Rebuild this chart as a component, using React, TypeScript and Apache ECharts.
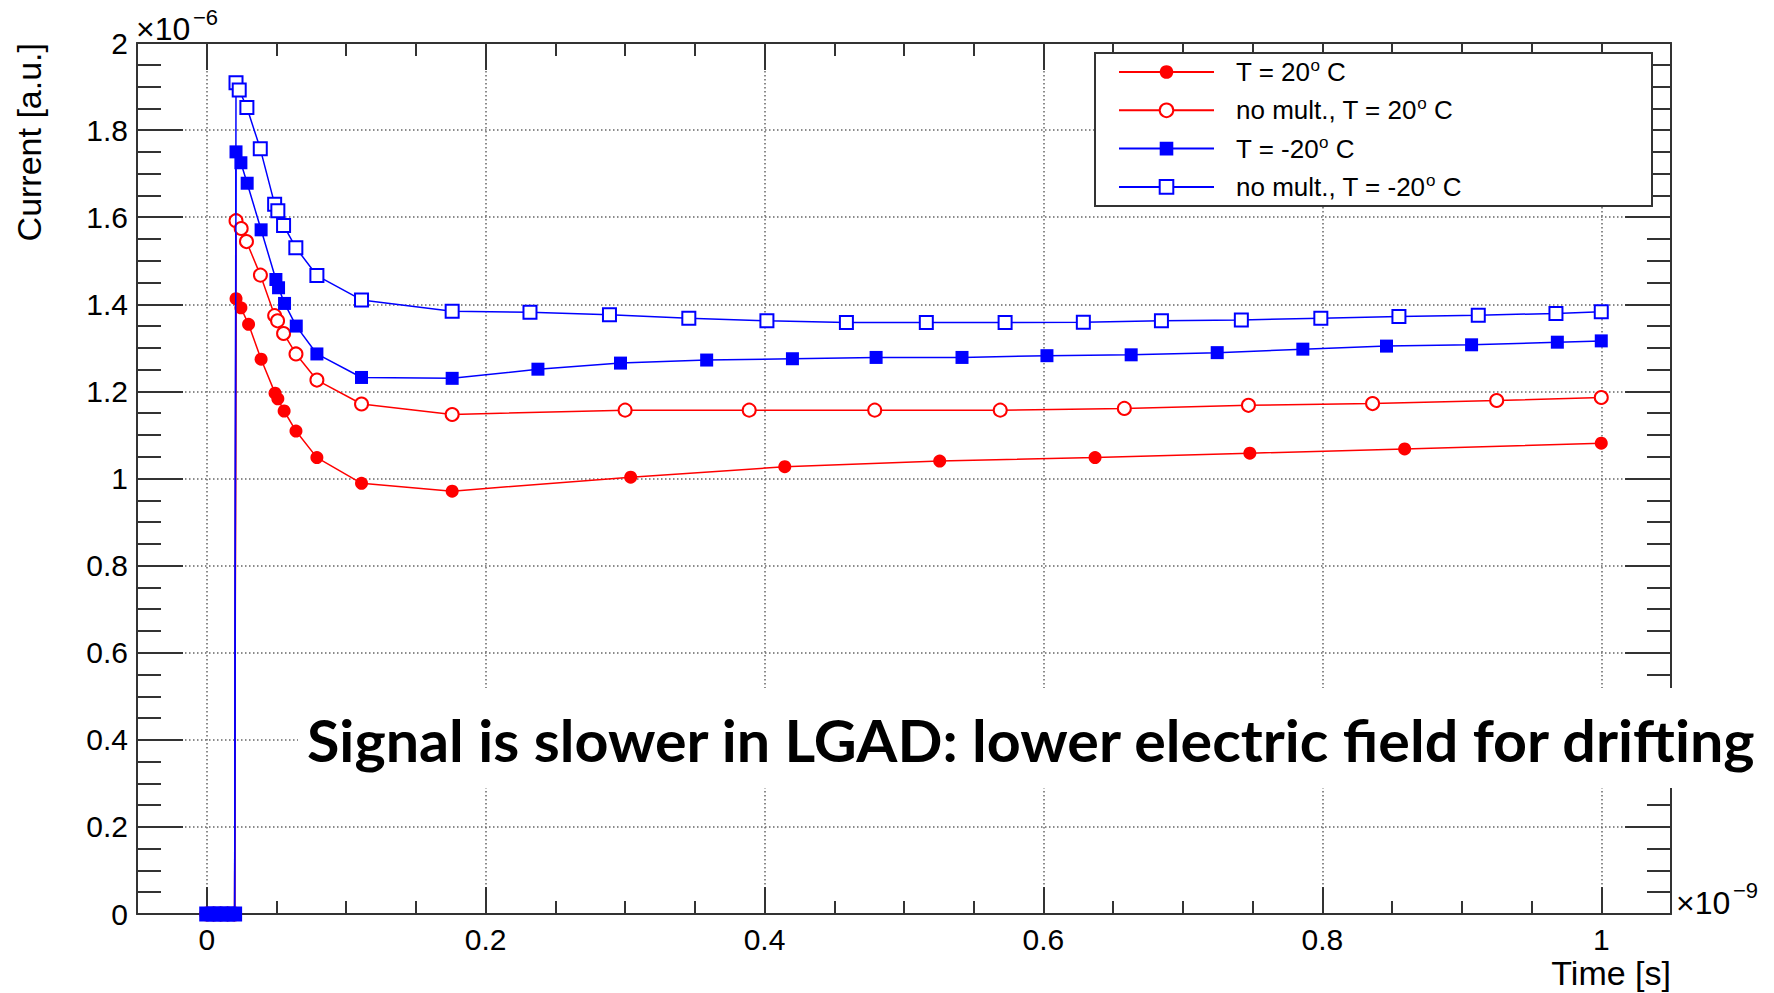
import React, { useEffect, useRef } from 'react';
import * as echarts from 'echarts';

// ---- data (time in 1e-9 s, current in 1e-6 a.u.) ----
const seriesNames = ['T = 20° C', 'no mult., T = 20° C', 'T = -20° C', 'no mult., T = -20° C'];

const time20 = [0, 0.005, 0.01, 0.015, 0.02, 0.021, 0.0245, 0.030, 0.039, 0.049, 0.051, 0.0555, 0.064, 0.079, 0.111, 0.176, 0.304, 0.4145, 0.5256, 0.637, 0.748, 0.859, 1.0];
const current20 = [0, 0, 0, 0, 0, 1.413, 1.392, 1.354, 1.274, 1.196, 1.183, 1.155, 1.109, 1.048, 0.989, 0.971, 1.003, 1.027, 1.040, 1.048, 1.058, 1.068, 1.081];

const timeNoMult20 = [0, 0.005, 0.01, 0.015, 0.02, 0.021, 0.0247, 0.0285, 0.0385, 0.0487, 0.0508, 0.0551, 0.064, 0.079, 0.111, 0.176, 0.300, 0.389, 0.479, 0.569, 0.658, 0.747, 0.836, 0.925, 1.0];
const currentNoMult20 = [0, 0, 0, 0, 0, 1.592, 1.574, 1.544, 1.467, 1.374, 1.362, 1.333, 1.286, 1.226, 1.171, 1.147, 1.157, 1.157, 1.157, 1.157, 1.161, 1.168, 1.172, 1.179, 1.186];

const timeM20 = [0, 0.005, 0.01, 0.015, 0.02, 0.021, 0.0245, 0.029, 0.039, 0.0496, 0.0515, 0.0558, 0.0642, 0.079, 0.111, 0.176, 0.2375, 0.2967, 0.3585, 0.420, 0.480, 0.5416, 0.6025, 0.6629, 0.7246, 0.786, 0.846, 0.907, 0.9685, 1.0];
const currentM20 = [0, 0, 0, 0, 0, 1.750, 1.725, 1.678, 1.571, 1.457, 1.438, 1.402, 1.350, 1.286, 1.232, 1.230, 1.251, 1.265, 1.272, 1.275, 1.278, 1.278, 1.282, 1.284, 1.289, 1.297, 1.304, 1.307, 1.313, 1.316];

const timeNoMultM20 = [0, 0.005, 0.01, 0.015, 0.02, 0.021, 0.0233, 0.0288, 0.0384, 0.0487, 0.051, 0.0551, 0.0639, 0.079, 0.111, 0.176, 0.2318, 0.2888, 0.3457, 0.4017, 0.4587, 0.516, 0.5725, 0.6286, 0.6846, 0.7419, 0.7989, 0.8549, 0.9118, 0.9675, 1.0];
const currentNoMultM20 = [0, 0, 0, 0, 0, 1.909, 1.892, 1.852, 1.757, 1.630, 1.615, 1.581, 1.530, 1.466, 1.410, 1.384, 1.382, 1.376, 1.368, 1.362, 1.358, 1.358, 1.358, 1.359, 1.362, 1.364, 1.368, 1.372, 1.375, 1.379, 1.383];

const xTitle = 'Time [s]';
const yTitle = 'Current [a.u.]';
const annotation = 'Signal is slower in LGAD: lower electric field for drifting';

const RED = '#ff0000';
const BLUE = '#0000ff';
const AXIS = '#333333';
const FONT = "'Liberation Sans', Arial, sans-serif";

export default function App() {
  const ref = useRef<HTMLDivElement>(null);

  useEffect(() => {
    const chart = echarts.init(ref.current as HTMLDivElement, null, { renderer: 'svg' });
    const pair = (xs: number[], ys: number[]) => xs.map((x, i) => [x, ys[i]]);

    // fit annotation width
    let annScale = 1;
    const cv = document.createElement('canvas').getContext('2d');
    if (cv) {
      cv.font = 'bold 57px Lato';
      const w = cv.measureText(annotation).width;
      if (w > 0) annScale = 1452 / w;
    }

    const axisLineStyle = { color: AXIS, width: 2 };
    const gridLine = { show: true, lineStyle: { type: [1.5, 2.5] as any, color: '#666', width: 1.5 } };

    const xCommon = {
      type: 'value' as const,
      min: -0.05,
      max: 1.05,
      splitNumber: 5,
      axisLine: { show: true, onZero: false, lineStyle: axisLineStyle },
      axisTick: { show: true, inside: true, length: 27, lineStyle: axisLineStyle },
      minorTick: { show: true, splitNumber: 4, length: 13, lineStyle: axisLineStyle },
    };
    const yCommon = {
      type: 'value' as const,
      min: 0,
      max: 2,
      interval: 0.2,
      axisLine: { show: true, onZero: false, lineStyle: axisLineStyle },
      axisTick: { show: true, inside: true, length: 46, lineStyle: axisLineStyle },
      minorTick: { show: true, splitNumber: 4, length: 24, lineStyle: axisLineStyle },
    };

    const lineSeries = (name: string, data: number[][], color: string, symbol: string, size: number, z: number) => ({
      type: 'line',
      name,
      data,
      z,
      symbol,
      symbolSize: size,
      showSymbol: true,
      lineStyle: { color, width: 1.5 },
      itemStyle: symbol.startsWith('empty')
        ? { color, borderColor: color, borderWidth: 1.5 }
        : { color, borderWidth: 0 },
      emphasis: { disabled: true },
    });

    chart.setOption({
      animation: false,
      backgroundColor: '#ffffff',
      grid: { left: 137, right: 103, top: 43, bottom: 79, containLabel: false },
      xAxis: [
        {
          ...xCommon,
          position: 'bottom',
          axisLabel: { show: true, fontSize: 30, color: '#000', fontFamily: FONT, margin: 10, showMinLabel: false, showMaxLabel: false },
          splitLine: gridLine,
        },
        {
          ...xCommon,
          position: 'top',
          axisLabel: { show: false },
          splitLine: { show: false },
        },
      ],
      yAxis: [
        {
          ...yCommon,
          position: 'left',
          axisLabel: { show: true, fontSize: 30, color: '#000', fontFamily: FONT, margin: 9 },
          splitLine: gridLine,
        },
        {
          ...yCommon,
          position: 'right',
          axisLabel: { show: false },
          splitLine: { show: false },
        },
      ],
      legend: {
        show: true,
        orient: 'vertical',
        left: 1118,
        top: 57,
        padding: 0,
        itemWidth: 95,
        itemHeight: 17,
        itemGap: 8.3,
        selectedMode: false,
        data: seriesNames,
        formatter: (name: string) => name.replace('°', '{sup|o}'),
        textStyle: {
          fontSize: 26,
          color: '#000',
          fontFamily: FONT,
          lineHeight: 30,
          padding: [0, 0, 0, 17],
          rich: {
            sup: { fontSize: 17, lineHeight: 16, verticalAlign: 'top', color: '#000', fontFamily: FONT },
          },
        },
      },
      graphic: [
        {
          type: 'rect',
          z: 3,
          shape: { x: 1095, y: 53, width: 557, height: 153 },
          style: { fill: '#ffffff', stroke: AXIS, lineWidth: 2 },
        },
        {
          type: 'rect',
          z: 10,
          shape: { x: 298, y: 688, width: 1476, height: 100 },
          style: { fill: '#ffffff', stroke: 'none' },
        },
        {
          type: 'text',
          z: 11,
          x: 307,
          y: 740,
          scaleX: annScale,
          style: { text: annotation, fontSize: 57, fontWeight: 'bold', fontFamily: 'Lato', fill: '#000', textAlign: 'left', verticalAlign: 'middle' },
        },
        {
          type: 'text',
          z: 11,
          x: 136,
          y: 29,
          style: { text: '×10', fontSize: 32, fontFamily: FONT, fill: '#000', textAlign: 'left', verticalAlign: 'middle' },
        },
        {
          type: 'text',
          z: 11,
          x: 193,
          y: 17,
          style: { text: '−6', fontSize: 22, fontFamily: FONT, fill: '#000', textAlign: 'left', verticalAlign: 'middle' },
        },
        {
          type: 'text',
          z: 11,
          x: 1676,
          y: 903,
          style: { text: '×10', fontSize: 32, fontFamily: FONT, fill: '#000', textAlign: 'left', verticalAlign: 'middle' },
        },
        {
          type: 'text',
          z: 11,
          x: 1733,
          y: 890,
          style: { text: '−9', fontSize: 22, fontFamily: FONT, fill: '#000', textAlign: 'left', verticalAlign: 'middle' },
        },
        {
          type: 'text',
          z: 11,
          x: 1671,
          y: 973,
          style: { text: xTitle, fontSize: 34, fontFamily: FONT, fill: '#000', textAlign: 'right', verticalAlign: 'middle' },
        },
        {
          type: 'text',
          z: 11,
          x: 29,
          y: 43,
          rotation: Math.PI / 2,
          style: { text: yTitle, fontSize: 34, fontFamily: FONT, fill: '#000', textAlign: 'right', verticalAlign: 'middle' },
        },
      ],
      series: [
        lineSeries(seriesNames[0], pair(time20, current20), RED, 'circle', 13, 2),
        lineSeries(seriesNames[1], pair(timeNoMult20, currentNoMult20), RED, 'emptyCircle', 13, 2),
        lineSeries(seriesNames[2], pair(timeM20, currentM20), BLUE, 'rect', 13, 3),
        lineSeries(seriesNames[3], pair(timeNoMultM20, currentNoMultM20), BLUE, 'emptyRect', 13, 2),
      ],
    });

    return () => chart.dispose();
  }, []);

  return (
    <div
      ref={ref}
      style={{ position: 'absolute', left: 0, top: 0, width: 1774, height: 993, background: '#fff' }}
    />
  );
}
